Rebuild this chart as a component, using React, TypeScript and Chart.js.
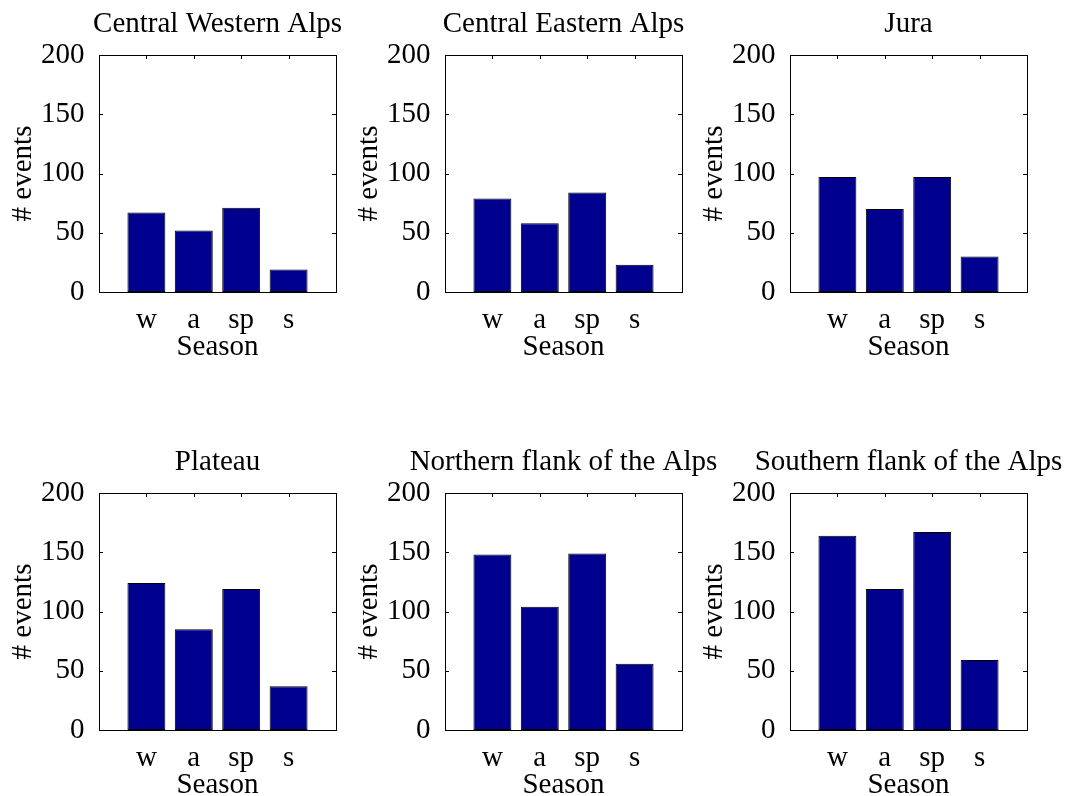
import React, { useEffect, useRef } from "react";
import { Chart, registerables } from "chart.js";

Chart.register(...registerables);

// ---- data ----
const seasons = ["w", "a", "sp", "s"];
const regions = [
  "Central Western Alps",
  "Central Eastern Alps",
  "Jura",
  "Plateau",
  "Northern flank of the Alps",
  "Southern flank of the Alps",
];
const centralWesternAlps = [67, 52, 71, 19];
const centralEasternAlps = [79, 58, 84, 23];
const jura = [97, 70, 97, 30];
const plateau = [124, 85, 119, 37];
const northernFlank = [148, 104, 149, 56];
const southernFlank = [164, 119, 167, 59];
const yTicks = [0, 50, 100, 150, 200];

const seriesList = [centralWesternAlps, centralEasternAlps, jura, plateau, northernFlank, southernFlank];

// ---- layout ----
const FONT = "'Liberation Serif', 'Times New Roman', Times, serif";
const FS = 29;
const AXW = 237;
const AXH = 237;
const SIDE = 99;
const TOPSPACE = 55;
const BOTSPACE = 75;
const CW = SIDE + AXW + SIDE;
const CH = TOPSPACE + AXH + BOTSPACE;
const colLeft = [99, 445, 790];
const rowTop = [55, 493];
const TICK = 4;

const framePlugin = {
  id: "matlabFrame",
  beforeDatasetsDraw(chart: any) {
    const { ctx, chartArea: a, scales } = chart;
    const x = scales.x;
    const y = scales.y;
    ctx.save();
    ctx.strokeStyle = "#000";
    ctx.lineWidth = 1;
    ctx.beginPath();
    for (const t of y.ticks) {
      const py = Math.round(y.getPixelForValue(t.value)) + 0.5;
      ctx.moveTo(a.left, py);
      ctx.lineTo(a.left + TICK, py);
      ctx.moveTo(a.right, py);
      ctx.lineTo(a.right - TICK, py);
    }
    for (const t of x.ticks) {
      const px = Math.round(x.getPixelForValue(t.value)) + 0.5;
      ctx.moveTo(px, a.top);
      ctx.lineTo(px, a.top + TICK);
      ctx.moveTo(px, a.bottom);
      ctx.lineTo(px, a.bottom - TICK);
    }
    ctx.stroke();
    ctx.restore();
  },
  afterDatasetsDraw(chart: any) {
    const { ctx, chartArea: a } = chart;
    ctx.save();
    ctx.strokeStyle = "#000";
    ctx.lineWidth = 1;
    ctx.strokeRect(Math.round(a.left) + 0.5, Math.round(a.top) + 0.5, Math.round(a.right - a.left), Math.round(a.bottom - a.top));
    ctx.restore();
  },
};

function SubChart({ title, values, left, top }: { title: string; values: number[]; left: number; top: number }) {
  const ref = useRef<HTMLCanvasElement>(null);
  useEffect(() => {
    const font = { family: FONT, size: FS, weight: "normal" as const };
    const chart = new Chart(ref.current as HTMLCanvasElement, {
      type: "bar",
      data: {
        datasets: [
          {
            data: values.map((v, i) => ({ x: i + 1, y: v })),
            backgroundColor: "#00008F",
            borderColor: "#000000",
            borderWidth: 1,
            borderSkipped: false,
            barPercentage: 0.8,
            categoryPercentage: 1,
          },
        ],
      },
      options: {
        animation: false,
        responsive: false,
        devicePixelRatio: 1,
        layout: { padding: 0 },
        plugins: {
          legend: { display: false },
          tooltip: { enabled: false },
          title: {
            display: true,
            text: title,
            color: "#000",
            font,
            padding: { top: 7, bottom: 13.2 },
          },
        },
        scales: {
          x: {
            type: "linear",
            min: 0,
            max: 5,
            offset: false,
            grid: { display: false, offset: false },
            border: { display: false },
            afterBuildTicks: (s: any) => {
              s.ticks = seasons.map((_, i) => ({ value: i + 1 }));
            },
            afterFit: (s: any) => {
              s.height = BOTSPACE;
            },
            ticks: {
              autoSkip: false,
              maxRotation: 0,
              color: "#000",
              font,
              padding: 3,
              callback: (v: any) => seasons[Number(v) - 1] ?? "",
            },
            title: {
              display: true,
              text: "Season",
              color: "#000",
              font,
              padding: { top: 0, bottom: 2 },
            },
          },
          y: {
            type: "linear",
            position: "left",
            min: 0,
            max: 200,
            grid: { display: false },
            border: { display: false },
            afterBuildTicks: (s: any) => {
              s.ticks = yTicks.map((v) => ({ value: v }));
            },
            afterFit: (s: any) => {
              s.width = SIDE;
            },
            ticks: { color: "#000", font, padding: 6.5 },
            title: {
              display: true,
              text: "# events",
              color: "#000",
              font,
              padding: { top: 6, bottom: 0 },
            },
          },
          y2: {
            type: "linear",
            position: "right",
            display: true,
            grid: { display: false },
            border: { display: false },
            ticks: { display: false },
            afterFit: (s: any) => {
              s.width = SIDE;
            },
          },
        },
      } as any,
      plugins: [framePlugin],
    });
    return () => chart.destroy();
  }, [title, values]);
  return (
    <canvas
      ref={ref}
      width={CW}
      height={CH}
      style={{ position: "absolute", left, top, width: CW, height: CH }}
    />
  );
}

export default function App() {
  return (
    <div
      style={{
        position: "absolute",
        left: 0,
        top: 0,
        width: 1074,
        height: 796,
        overflow: "hidden",
        background: "#fff",
      }}
    >
      {regions.map((r, i) => (
        <SubChart
          key={r}
          title={r}
          values={seriesList[i]}
          left={colLeft[i % 3] - SIDE}
          top={rowTop[Math.floor(i / 3)] - TOPSPACE}
        />
      ))}
    </div>
  );
}
